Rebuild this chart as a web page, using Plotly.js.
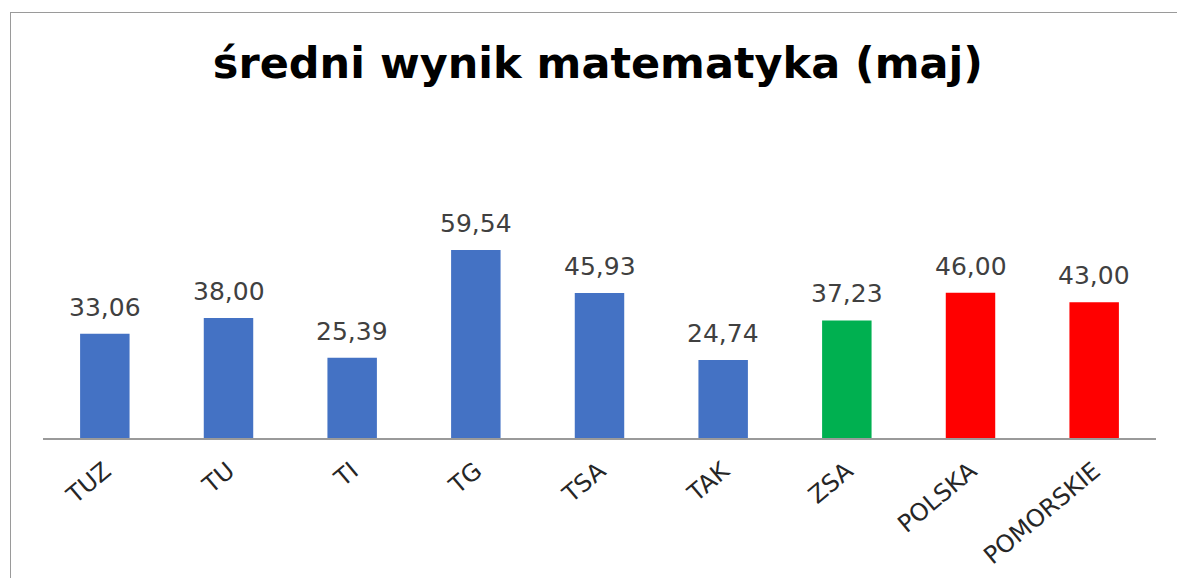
<!DOCTYPE html>
<html>
<head>
<meta charset="utf-8">
<script src="https://cdn.plot.ly/plotly-3.0.1.min.js"></script>
<style>
html,body{margin:0;padding:0;overflow:hidden;background:#fff;}
#chart{position:absolute;left:0;top:0;width:1177px;height:578px;}
#frame{position:absolute;left:10px;top:12px;width:1400px;height:800px;border-left:1.5px solid #9a9a9a;border-top:1.5px solid #9a9a9a;pointer-events:none;}
</style>
</head>
<body>
<div id="chart"></div>
<div id="frame"></div>
<script>
const categories = ["TUZ","TU","TI","TG","TSA","TAK","ZSA","POLSKA","POMORSKIE"];
const values = [33.06, 38.00, 25.39, 59.54, 45.93, 24.74, 37.23, 46.00, 43.00];
const labels = ["33,06","38,00","25,39","59,54","45,93","24,74","37,23","46,00","43,00"];
const barColors = ["#4472C4","#4472C4","#4472C4","#4472C4","#4472C4","#4472C4","#00B050","#FF0000","#FF0000"];
const chartTitle = "średni wynik matematyka (maj)";

const font = "DejaVu Sans, Verdana, sans-serif";

const trace = {
  type: "bar",
  x: categories,
  y: values,
  marker: {color: barColors},
  hoverinfo: "x+y"
};

const annotations = categories.map((c, i) => ({
  x: c, y: values[i], xref: "x", yref: "y",
  text: labels[i], showarrow: false,
  yanchor: "bottom", yshift: 10,
  font: {family: font, size: 25, color: "#404040"}
}));

const layout = {
  width: 1177, height: 578,
  margin: {l: 43, r: 21, t: 130, b: 140},
  paper_bgcolor: "#fff", plot_bgcolor: "#fff",
  title: {
    text: "<b>" + chartTitle + "</b>",
    font: {family: font, size: 43, color: "#000"},
    x: 0.508, xanchor: "center",
    y: 1 - 48/578, yanchor: "top", yref: "container"
  },
  bargap: 0.6,
  showlegend: false,
  xaxis: {
    type: "category",
    tickangle: -40,
    tickfont: {family: font, size: 24, color: "#262626"},
    showline: true, linecolor: "#9a9a9a", linewidth: 1.5,
    ticks: "", showgrid: false, zeroline: false,
    ticklabelstandoff: 8
  },
  yaxis: {
    range: [0, 97.56],
    visible: false, showgrid: false, zeroline: false
  },
  annotations: annotations
};

Plotly.newPlot("chart", [trace], layout, {displayModeBar: false, staticPlot: true});
</script>
</body>
</html>
